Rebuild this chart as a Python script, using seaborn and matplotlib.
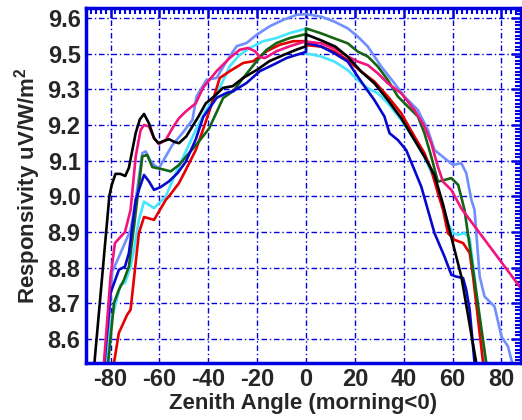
import numpy as np
import pandas as pd
import matplotlib
matplotlib.use("Agg")
import matplotlib.pyplot as plt
from matplotlib.ticker import MultipleLocator
import seaborn as sns

# zenith angle (deg) and responsivity for each sensor curve
black_x = [-86.6, -80.5, -79.6, -78, -76, -74, -72.5, -69.7, -68, -66.3, -64.3, -62.2, -60.4, -58, -56, -54, -52, -49,
           -46.5, -44, -41, -37.6, -34, -30, -25.7, -20, -15, -9, -4, 0,
           0, 6, 12, 17, 22.6, 28, 33.5, 39, 44.4, 48.5, 52.6, 56, 63.6, 69.7]
black_y = [8.533, 9.0, 9.03, 9.063, 9.063, 9.057, 9.08, 9.178, 9.216, 9.231, 9.205, 9.163, 9.149, 9.156, 9.16, 9.153, 9.149, 9.168,
           9.196, 9.224, 9.261, 9.28, 9.304, 9.309, 9.332, 9.355, 9.379, 9.397, 9.411, 9.421,
           9.454, 9.438, 9.42, 9.392, 9.35, 9.317, 9.27, 9.219, 9.158, 9.111, 9.06, 8.98, 8.775, 8.533]

pink_x = [-82.7, -80, -78.2, -74.1, -71.8, -69.7, -67.7, -66.3, -64.3, -62.2, -60.2, -57.4, -54.7, -52, -49.2, -45.1,
          -42.1, -36.6, -31.2, -27.1, -23.7, -20.9, -18.9, -16.8, -12, -6.6, 0,
          0, 6.2, 11.6, 17.1, 21.2, 25.3, 29.4, 33.5, 39, 44.4, 48.5, 51.3, 54, 56.1, 59.5, 63.6, 88]
pink_y = [8.533, 8.775, 8.869, 8.9, 8.962, 9.112, 9.186, 9.2, 9.196, 9.163, 9.147, 9.158, 9.191, 9.219, 9.238, 9.261,
          9.305, 9.351, 9.388, 9.411, 9.416, 9.407, 9.39, 9.388, 9.407, 9.421, 9.435,
          9.434, 9.429, 9.415, 9.392, 9.378, 9.368, 9.345, 9.317, 9.289, 9.242, 9.196, 9.149, 9.083, 9.041, 9.018, 8.966, 8.742]

lblue_x = [-81.8, -79.3, -75.9, -71.8, -69.7, -69.1, -67, -65.6, -63.6, -61.5, -60.2, -57.4, -54.7, -50.6, -46.5, -44.8,
           -40.7, -36.6, -32.5, -28.4, -24.3, -20.2, -14.8, -9.3, -3.8, 0,
           0, 6.2, 11.6, 17.1, 21.2, 25.3, 30.8, 36.2, 40.3, 45.8, 49.9, 52.6, 56.7, 60.2, 63.6, 65.6, 67.7, 69, 71.1, 73.1,
           77.2, 80, 82.7, 84.4]
lblue_y = [8.533, 8.789, 8.841, 8.906, 8.99, 9.018, 9.121, 9.126, 9.098, 9.084, 9.079, 9.112, 9.144, 9.177, 9.214, 9.28,
           9.327, 9.332, 9.379, 9.421, 9.43, 9.453, 9.477, 9.495, 9.509, 9.511,
           9.511, 9.504, 9.49, 9.471, 9.448, 9.42, 9.364, 9.317, 9.28, 9.242, 9.186, 9.13, 9.107, 9.088, 9.093, 9.065, 8.99, 8.962, 8.775, 8.719,
           8.691, 8.607, 8.579, 8.533]

dblue_x = [-82.5, -80, -76.6, -74.1, -72.5, -69.7, -68.4, -66.3, -64.3, -62.2, -59.5, -56.1, -52.6, -49.2, -45.1, -42.1,
           -36.6, -32.5, -29.8, -24.3, -18.9, -13.4, -7.9, 0,
           0, 6.2, 11.6, 17.1, 21.2, 24, 28, 32.1, 34.2, 37.6, 41, 44.4, 47.2, 49.9, 52.6, 56.7, 59.5, 61.5, 64.3, 65.6, 67, 69]
dblue_y = [8.533, 8.729, 8.794, 8.803, 8.841, 8.99, 9.018, 9.06, 9.042, 9.018, 9.026, 9.042, 9.065, 9.097, 9.16, 9.222,
           9.276, 9.29, 9.295, 9.318, 9.351, 9.369, 9.388, 9.405,
           9.431, 9.42, 9.401, 9.378, 9.336, 9.308, 9.27, 9.224, 9.177, 9.158, 9.13, 9.074, 9.027, 8.962, 8.897, 8.831, 8.78, 8.775, 8.771, 8.738, 8.682, 8.533]

green_x = [-81, -78.6, -76.6, -74.5, -72.5, -70.4, -69.1, -67, -65, -62.9, -58.8, -55.4, -52, -47.9, -43.8, -39.7,
           -33.9, -29.8, -25.7, -20.2, -16.1, -12, -6.6, 0,
           0, 6.2, 11.6, 17.1, 21.2, 25.3, 29.4, 33.5, 37.6, 41.7, 45.8, 48.5, 51.3, 54, 56.7, 59.5, 62.3, 64.9, 73.8]
green_y = [8.533, 8.701, 8.738, 8.766, 8.803, 8.915, 8.99, 9.112, 9.116, 9.082, 9.076, 9.07, 9.088, 9.121, 9.154, 9.19,
           9.276, 9.295, 9.332, 9.379, 9.411, 9.43, 9.444, 9.455,
           9.471, 9.457, 9.443, 9.429, 9.406, 9.392, 9.364, 9.326, 9.28, 9.252, 9.224, 9.177, 9.111, 9.041, 9.046, 9.051, 9.032, 8.962, 8.533]

red_x = [-78.6, -76.6, -73.2, -71.8, -68.4, -66.3, -62.2, -57.4, -56.1, -52, -49.2, -45.1, -41.7, -38.9,
         -35.3, -31.2, -25.7, -21.6, -16.1, -10.7, -5.2, 0,
         0, 6.2, 11.6, 17.1, 22.6, 28, 33.5, 39, 44.4, 48.5, 51.3, 54, 56.1, 58.1, 60.8, 64.3, 67, 68.4, 72.5]
red_y = [8.533, 8.617, 8.668, 8.682, 8.897, 8.942, 8.934, 8.99, 9.0, 9.037, 9.074, 9.13, 9.196, 9.252,
         9.332, 9.351, 9.374, 9.379, 9.407, 9.425, 9.435, 9.435,
         9.424, 9.42, 9.406, 9.382, 9.35, 9.322, 9.28, 9.233, 9.168, 9.121, 9.074, 9.009, 8.962, 8.897, 8.878, 8.869, 8.841, 8.775, 8.533]

cyan_x = [-82, -79.3, -75.9, -74.1, -71.8, -70.4, -68.4, -66.3, -62.2, -58.8, -57.4, -53.3, -49.2, -45.1, -41, -36.9,
          -31.2, -27.1, -23, -17.5, -12, -6.6, 0,
          0, 6.2, 11.6, 17.1, 21.2, 25.3, 29.4, 33.5, 39, 44.4, 48.5, 52.6, 55.4, 58.1, 60.2, 62.3, 64.9, 67, 69, 73.1]
cyan_y = [8.533, 8.663, 8.752, 8.757, 8.803, 8.85, 8.934, 8.985, 8.967, 8.99, 9.0, 9.065, 9.126, 9.186, 9.242, 9.28,
          9.365, 9.397, 9.416, 9.435, 9.444, 9.458, 9.47,
          9.401, 9.392, 9.378, 9.354, 9.326, 9.303, 9.289, 9.261, 9.214, 9.158, 9.111, 9.046, 8.99, 8.925, 8.897, 8.892, 8.897, 8.883, 8.775, 8.533]

series = {
    "lblue": (lblue_x, lblue_y),
    "cyan": (cyan_x, cyan_y),
    "red": (red_x, red_y),
    "green": (green_x, green_y),
    "dblue": (dblue_x, dblue_y),
    "pink": (pink_x, pink_y),
    "black": (black_x, black_y),
}
colors = {
    "lblue": "#6F8FFF",
    "cyan": "#44E6FF",
    "red": "#E60000",
    "green": "#146414",
    "dblue": "#0808CC",
    "pink": "#F0147C",
    "black": "#000000",
}

ytick_pos = [8.6, 8.7, 8.8, 8.9, 9.0, 9.1, 9.2, 9.3, 9.4, 9.5]
ytick_labels = ["8.6", "8.7", "8.8", "8.9", "9.0", "9.1", "9.2", "9.3", "9.5", "9.6"]
xtick_pos = [-80, -60, -40, -20, 0, 20, 40, 60, 80]

frames = []
for name, (xs, ys) in series.items():
    frames.append(pd.DataFrame({"angle": xs, "resp": ys, "sensor": name}))
df = pd.concat(frames, ignore_index=True)

sns.set_style("white")
plt.rcParams["font.family"] = ["Liberation Sans", "DejaVu Sans"]
plt.rcParams["font.weight"] = "bold"
plt.rcParams["mathtext.fontset"] = "custom"
plt.rcParams["mathtext.rm"] = "Liberation Sans:bold"
plt.rcParams["mathtext.default"] = "rm"

blue = "#0000E0"
fig = plt.figure(figsize=(5.22, 4.2), dpi=100)
ax = fig.add_axes([0.165, 0.136, 0.833, 0.844])

sns.lineplot(data=df, x="angle", y="resp", hue="sensor", palette=colors,
             estimator=None, sort=False, linewidth=1.9, legend=False, ax=ax)

ax.set_xlim(-90, 88)
ax.set_ylim(8.533, 9.527)
ax.set_xticks(xtick_pos)
ax.set_xticklabels([str(v) for v in xtick_pos])
ax.set_yticks(ytick_pos)
ax.set_yticklabels(ytick_labels)
ax.xaxis.set_minor_locator(MultipleLocator(2))
ax.yaxis.set_minor_locator(MultipleLocator(0.01))

ax.grid(True, which="major", color=blue, linestyle=(0, (4, 2, 1, 2)), linewidth=1.0)
for s in ax.spines.values():
    s.set_color(blue)
    s.set_linewidth(2.5)
ax.tick_params(which="both", direction="in", top=True, right=True, color=blue)
ax.tick_params(which="major", length=7, width=1.8, labelsize=17, pad=4)
ax.tick_params(which="minor", length=4, width=1.5)
for lab in ax.get_xticklabels() + ax.get_yticklabels():
    lab.set_fontweight("bold")

ax.set_xlabel("Zenith Angle (morning<0)", fontsize=16, fontweight="bold", labelpad=1)
ax.set_ylabel("Responsivity uV/W/m$^2$", fontsize=16, fontweight="bold", labelpad=3)

fig.savefig("out.png", dpi=100)
